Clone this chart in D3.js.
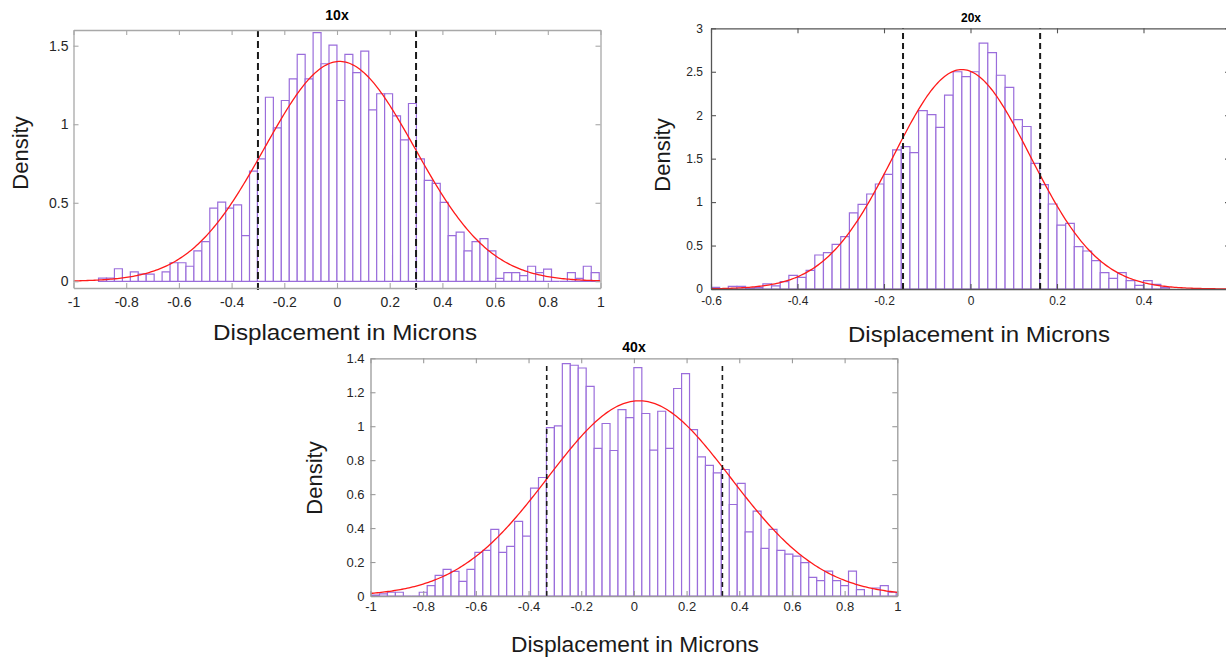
<!DOCTYPE html>
<html>
<head>
<meta charset="utf-8">
<script src="https://cdn.jsdelivr.net/npm/d3@7"></script>
<style>
  body { margin: 0; background: #fff; }
  svg { display: block; font-family: "Liberation Sans", Arial, Helvetica, sans-serif; }
</style>
</head>
<body>
<div id="chart"></div>
<script>
// panel titles
var titles = ["10x", "20x", "40x"];

// histogram densities, one value per bin
var dens10x = [0.02, 0.02, 0.08, 0, 0.06, 0.046, 0.046, 0, 0.06, 0.118,
               0.118, 0.096, 0.194, 0.253, 0.466, 0.504, 0.466, 0.487, 0.291, 0.702,
               0.779, 1.172, 0.977, 1.151, 1.289, 1.445, 1.289, 1.583, 1.385, 1.504,
               1.151, 1.445, 1.328, 1.466, 1.091, 1.194, 1.194, 1.053, 0.9, 1.132,
               0.779, 0.643, 0.623, 0.502, 0.291, 0.313, 0.194, 0.253, 0.272, 0.194,
               0.019, 0.055, 0.055, 0.036, 0.096, 0.055, 0.077, 0, 0, 0.055,
               0.019, 0.096, 0.055];
var dens20x = [0.019, 0, 0.03, 0.03, 0.01, 0.015, 0.058, 0.035, 0.084, 0.157,
               0.134, 0.215, 0.391, 0.418, 0.514, 0.602, 0.875, 0.974, 1.093, 1.208,
               1.32, 1.6, 1.638, 1.569, 2.052, 2.006, 1.86, 2.232, 2.5, 2.443,
               2.5, 2.83, 2.72, 2.46, 2.32, 1.95, 1.87, 1.446, 1.2, 0.978,
               0.736, 0.755, 0.487, 0.437, 0.326, 0.188, 0.123, 0.188, 0.096, 0.042,
               0.096, 0.054, 0.015];
var dens40x = [0.006, 0.012, 0.022, 0.022, 0, 0, 0.022, 0.061, 0.122, 0.157,
               0.145, 0.086, 0.157, 0.257, 0.269, 0.392, 0.257, 0.292, 0.439, 0.353,
               0.635, 0.698, 0.992, 1.002, 1.369, 1.359, 1.343, 1.235, 0.869, 1.016,
               0.857, 1.098, 1.051,
               1.345, 1.075, 0.859, 1.088, 0.869, 1.222, 1.31, 0.98, 0.82, 0.769,
               0.725, 0.745, 0.539, 0.663, 0.378, 0.5, 0.28, 0.392, 0.269, 0.247,
               0.235, 0.196, 0.11, 0.09, 0.147, 0.09, 0.061, 0.147, 0.037, 0,
               0.047, 0.061, 0.022];

// first bin edge and bin width
var binStart = [-0.905, -0.6, -0.996];
var binWidth = [0.03016, 0.02, 0.03018];

// fitted normal curve
var fitMean = [0.01, -0.02, 0.02];
var fitSd = [0.285, 0.158, 0.347];

// dashed cut-off lines
var cut10x = [-0.3, 0.3];
var cut20x = [-0.156, 0.161];
var cut40x = [-0.331, 0.336];

// axis ranges and ticks
var xRange10x = [-1, 1],    yRange10x = [-0.0426, 1.6];
var xRange20x = [-0.6, 0.6], yRange20x = [0, 3];
var xRange40x = [-1, 1],    yRange40x = [0, 1.4];
var xTicks10x = [-1, -0.8, -0.6, -0.4, -0.2, 0, 0.2, 0.4, 0.6, 0.8, 1];
var yTicks10x = [0, 0.5, 1, 1.5];
var xTicks20x = [-0.6, -0.4, -0.2, 0, 0.2, 0.4];
var yTicks20x = [0, 0.5, 1, 1.5, 2, 2.5, 3];
var xTicks40x = [-1, -0.8, -0.6, -0.4, -0.2, 0, 0.2, 0.4, 0.6, 0.8, 1];
var yTicks40x = [0, 0.2, 0.4, 0.6, 0.8, 1, 1.2, 1.4];

var xLabel = "Displacement in Microns";
var yLabel = "Density";

var width = 1226, height = 657;

var svg = d3.select("#chart").append("svg")
    .attr("width", width)
    .attr("height", height);

// layout of each panel (pixels)
var panels = [
  { dens: dens10x, cut: cut10x, xr: xRange10x, yr: yRange10x, xt: xTicks10x, yt: yTicks10x,
    left: 73.5, right: 600.5, top: 30, bottom: 288, axisColor: "#a8a8a8", tickFont: 14,
    padX: 9, padY: 5, tick: 5, title: [337, 20, 14], yl: [28, 153], xl: [345, 340, 264],
    cutY: [-0.055, 1.62], dash: "7,4", dashW: 2 },
  { dens: dens20x, cut: cut20x, xr: xRange20x, yr: yRange20x, xt: xTicks20x, yt: yTicks20x,
    left: 711, right: 1230, top: 28.3, bottom: 289, axisColor: "#555", tickFont: 12,
    padX: 7, padY: 8, tick: 5, title: [971, 22, 12], yl: [670, 155], xl: [979, 342, 262],
    cutY: [0, 3], dash: "6,4", dashW: 2 },
  { dens: dens40x, cut: cut40x, xr: xRange40x, yr: yRange40x, xt: xTicks40x, yt: yTicks40x,
    left: 370.5, right: 897.3, top: 358.3, bottom: 596, axisColor: "#9a9a9a", tickFont: 13,
    padX: 6, padY: 6, tick: 5, title: [634, 352, 14], yl: [322, 478], xl: [635, 652, 248],
    cutY: [0, 1.37], dash: "5,4", dashW: 1.6 }
];

var fmt = function(d) { return String(+d.toFixed(2)); };

panels.forEach(function(p, k) {
  var x = d3.scaleLinear().domain(p.xr).range([p.left, p.right]);
  var y = d3.scaleLinear().domain(p.yr).range([p.bottom, p.top]);
  var g = svg.append("g");

  g.append("clipPath").attr("id", "clip" + k)
    .append("rect")
    .attr("x", p.left).attr("y", p.top)
    .attr("width", p.right - p.left).attr("height", p.bottom - p.top);

  var plot = g.append("g").attr("clip-path", "url(#clip" + k + ")");

  // histogram bars
  plot.selectAll("path.bar")
    .data(p.dens)
    .enter()
    .append("path")
    .attr("class", "bar")
    .attr("d", function(d, i) {
      var x0 = x(binStart[k] + i * binWidth[k]);
      var x1 = x(binStart[k] + (i + 1) * binWidth[k]);
      return "M" + x0 + "," + y(0) + "V" + y(d) + "H" + x1 + "V" + y(0) + "Z";
    })
    .attr("fill", "#fff")
    .attr("stroke", "#9a6ddb")
    .attr("stroke-width", 1.2);

  // normal fit
  var xs = d3.range(p.xr[0], p.xr[1] + 0.001, (p.xr[1] - p.xr[0]) / 300);
  var line = d3.line()
    .x(function(v) { return x(v); })
    .y(function(v) {
      var z = (v - fitMean[k]) / fitSd[k];
      return y(Math.exp(-0.5 * z * z) / (fitSd[k] * Math.sqrt(2 * Math.PI)));
    });
  plot.append("path")
    .datum(xs)
    .attr("d", line)
    .attr("fill", "none")
    .attr("stroke", "#ff1a1a")
    .attr("stroke-width", 1.3);

  // dashed cut-offs
  g.selectAll("line.cut")
    .data(p.cut)
    .enter()
    .append("line")
    .attr("x1", function(d) { return x(d); })
    .attr("x2", function(d) { return x(d); })
    .attr("y1", y(p.cutY[0]))
    .attr("y2", y(p.cutY[1]))
    .attr("stroke", "#1a1a1a")
    .attr("stroke-width", p.dashW)
    .attr("stroke-dasharray", p.dash);

  // axes (box with inward ticks)
  var styleAxis = function(sel) {
    sel.select(".domain").attr("stroke", p.axisColor).attr("stroke-width", 1.3);
    sel.selectAll(".tick line").attr("stroke", p.axisColor).attr("stroke-width", 1.1);
    sel.selectAll("text")
      .attr("fill", "#262626")
      .attr("font-size", p.tickFont)
      .attr("font-family", "'Liberation Sans', Arial, sans-serif");
  };

  g.append("g")
    .attr("transform", "translate(0," + p.bottom + ")")
    .call(d3.axisBottom(x).tickValues(p.xt).tickFormat(fmt).tickSize(-p.tick).tickSizeOuter(0).tickPadding(p.padX))
    .call(styleAxis);
  g.append("g")
    .attr("transform", "translate(0," + p.top + ")")
    .call(d3.axisTop(x).tickValues(p.xt).tickFormat("").tickSize(-p.tick).tickSizeOuter(0))
    .call(styleAxis);
  g.append("g")
    .attr("transform", "translate(" + p.left + ",0)")
    .call(d3.axisLeft(y).tickValues(p.yt).tickFormat(fmt).tickSize(-p.tick).tickSizeOuter(0).tickPadding(p.padY))
    .call(styleAxis);
  g.append("g")
    .attr("transform", "translate(" + p.right + ",0)")
    .call(d3.axisRight(y).tickValues(p.yt).tickFormat("").tickSize(-p.tick).tickSizeOuter(0))
    .call(styleAxis);

  // title
  g.append("text")
    .attr("x", p.title[0]).attr("y", p.title[1])
    .attr("text-anchor", "middle")
    .attr("font-weight", "bold")
    .attr("font-size", p.title[2])
    .attr("fill", "#000")
    .text(titles[k]);

  // axis labels
  g.append("text")
    .attr("transform", "translate(" + p.yl[0] + "," + p.yl[1] + ") rotate(-90)")
    .attr("text-anchor", "middle")
    .attr("font-size", 22)
    .attr("fill", "#1a1a1a")
    .text(yLabel);

  g.append("text")
    .attr("x", p.xl[0] - p.xl[2] / 2).attr("y", p.xl[1])
    .attr("textLength", p.xl[2])
    .attr("lengthAdjust", "spacingAndGlyphs")
    .attr("font-size", 22)
    .attr("fill", "#1a1a1a")
    .text(xLabel);
});
</script>
</body>
</html>
